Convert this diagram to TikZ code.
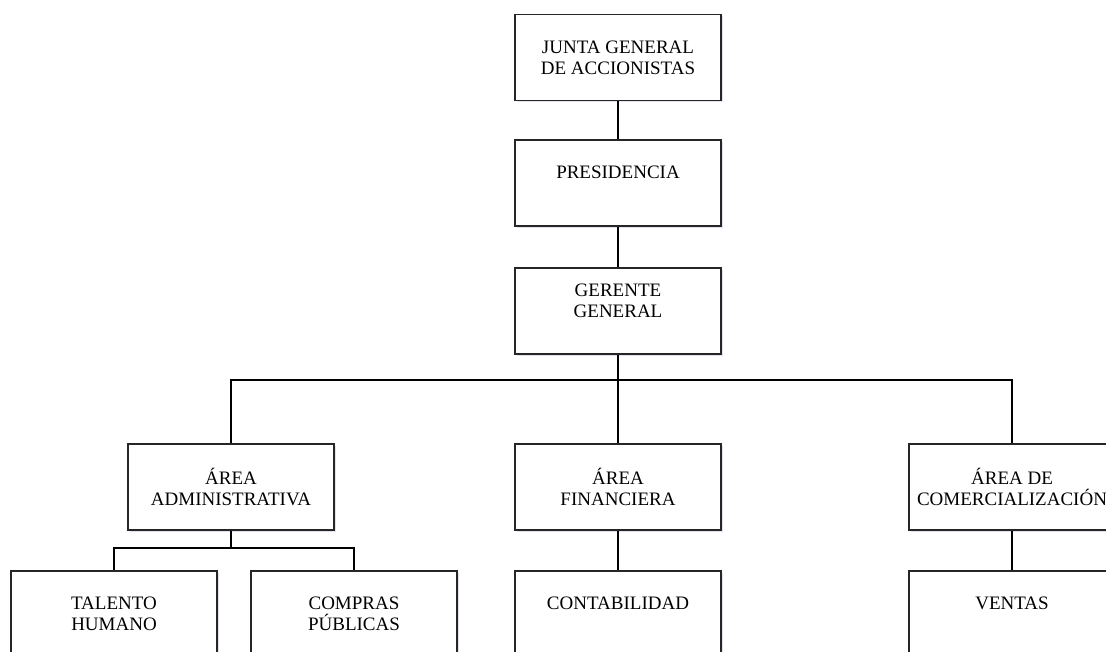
\documentclass[tikz,border=0pt]{standalone}
\usepackage{fontspec}
\setmainfont{Liberation Serif}
\usetikzlibrary{shadows}
\begin{document}
\begin{tikzpicture}[x=1pt,y=-1pt,
  orgbox/.style={draw=black!85, line width=1.2pt, fill=white, minimum width=206pt, minimum height=86pt,
    inner sep=0pt, align=center, font=\fontsize{19}{21}\selectfont,
    drop shadow={shadow xshift=1.5pt, shadow yshift=-2pt, fill=blue!25!gray!30, opacity=0.6}},
  link/.style={draw=black, line width=1.6pt}]
\useasboundingbox (0,0) rectangle (1106,652);
\clip (0,0) rectangle (1106,652);
\node[orgbox] (junta) at (618,57.5) {JUNTA GENERAL\\DE ACCIONISTAS};
\node[orgbox] (pres) at (618,183) {PRESIDENCIA\\[0pt]~};
\node[orgbox] (ger) at (618,311) {GERENTE\\GENERAL\\~};
\node[orgbox] (admin) at (231,487) {ÁREA\\ADMINISTRATIVA};
\node[orgbox] (fin) at (618,487) {ÁREA\\FINANCIERA};
\node[orgbox] (com) at (1012,487) {ÁREA DE\\COMERCIALIZACIÓN};
\node[orgbox] (tal) at (114,614) {TALENTO\\HUMANO};
\node[orgbox] (comp) at (354,614) {COMPRAS\\PÚBLICAS};
\node[orgbox] (cont) at (618,614) {CONTABILIDAD\\~};
\node[orgbox] (vent) at (1012,614) {VENTAS\\~};
\coordinate (bus) at (618,380);
\coordinate (subbus) at (231,548);
\draw[link] (junta.south) -- (pres.north);
\draw[link] (pres.south) -- (ger.north);
\draw[link] (ger.south) -- (fin.north);
\draw[link] (admin.north) |- (bus) -| (com.north);
\draw[link] (admin.south) -- (subbus);
\draw[link] (tal.north) |- (subbus) -| (comp.north);
\draw[link] (fin.south) -- (cont.north);
\draw[link] (com.south) -- (vent.north);
\end{tikzpicture}
\end{document}
